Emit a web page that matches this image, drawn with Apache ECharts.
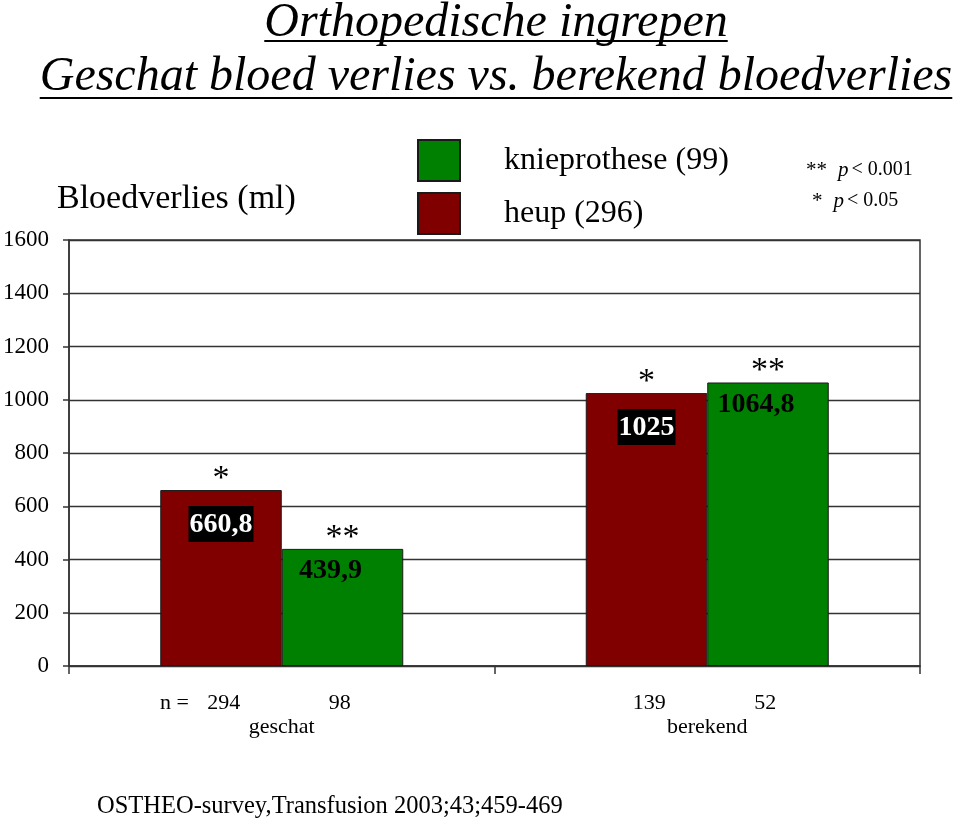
<!DOCTYPE html>
<html><head><meta charset="utf-8">
<script src="https://cdn.jsdelivr.net/npm/echarts@6/dist/echarts.min.js"></script>
<style>html,body{margin:0;padding:0;background:#fff}#c{width:960px;height:820px}</style>
</head><body><div id="c"></div>
<script>
// ---- data ----
const titleLines = ['Orthopedische ingrepen', 'Geschat bloed verlies vs. berekend bloedverlies'];
const categories = ['geschat', 'berekend'];
const heupName = 'heup (296)';
const knieName = 'knieprothese (99)';
const heupValues = [660.8, 1025];
const knieValues = [439.9, 1064.8];
const heupLabels = ['660,8', '1025'];
const knieLabels = ['439,9', '1064,8'];
const heupN = [294, 139];
const knieN = [98, 52];
const heupSig = ['*', '*'];
const knieSig = ['**', '**'];
const yMin = 0, yMax = 1600, yInterval = 200;
const yAxisTitle = 'Bloedverlies (ml)';
const nPrefix = 'n =';
const pNotes = [['**', '< 0.001'], ['*', '< 0.05']];
const sourceNote = 'OSTHEO-survey,Transfusion 2003;43;459-469';

// ---- styles ----
const SERIF = '"Liberation Serif", "Times New Roman", serif';
const RED = '#800000', GREEN = '#008000', LINE = '#333';

function measure(text, font) {
  const ctx = document.createElement('canvas').getContext('2d');
  ctx.font = font;
  return ctx.measureText(text).width;
}
const baseTitleSize = 40;
const titleFontSize = Math.round(baseTitleSize * 920 / measure(titleLines[1], 'italic ' + baseTitleSize + 'px "Liberation Serif"'));
const titleFont = 'italic ' + titleFontSize + 'px "Liberation Serif"';
const titleCenterX = 496;
const titleY = [23, 77];
const underlineY = [41, 98];

const graphics = [];
titleLines.forEach((t, i) => {
  const w = measure(t, titleFont);
  graphics.push({
    type: 'text', x: titleCenterX, y: titleY[i], silent: true,
    style: { text: t, fill: '#000', font: titleFont, align: 'center', verticalAlign: 'middle' }
  });
  graphics.push({
    type: 'line', silent: true,
    shape: { x1: titleCenterX - w / 2, y1: underlineY[i], x2: titleCenterX + w / 2, y2: underlineY[i] },
    style: { stroke: '#000', lineWidth: 2 }
  });
});
graphics.push({
  type: 'text', x: 57, y: 199, silent: true,
  style: { text: yAxisTitle, fill: '#000', font: '34px "Liberation Serif"', align: 'left', verticalAlign: 'middle' }
});
graphics.push({
  type: 'text', x: 160, y: 703, silent: true,
  style: { text: nPrefix, fill: '#000', font: '22px "Liberation Serif"', align: 'left', verticalAlign: 'middle' }
});
graphics.push({
  type: 'text', x: 97, y: 807, silent: true,
  style: { text: sourceNote, fill: '#000', font: '24.5px "Liberation Serif"', align: 'left', verticalAlign: 'middle' }
});
const noteX = [806, 812], noteY = [170, 201];
pNotes.forEach((n, i) => {
  graphics.push({
    type: 'text', x: noteX[i], y: noteY[i], silent: true,
    style: {
      text: '{s|' + n[0] + '}{p|p}{t|' + n[1] + '}',
      align: 'left', verticalAlign: 'middle',
      rich: {
        s: { fontSize: 21, fontFamily: SERIF, fill: '#000', padding: [0, 11, 0, 0] },
        p: { fontSize: 21, fontFamily: SERIF, fontStyle: 'italic', fill: '#000', padding: [0, 3, 0, 0] },
        t: { fontSize: 20, fontFamily: SERIF, fill: '#000' }
      }
    }
  });
});

function sigMarks(values, sig) {
  return categories.map((c, i) => ({ coord: [c, values[i]], name: sig[i] }));
}
const markPointCommon = {
  symbol: 'rect', symbolSize: 1, silent: true, animation: false,
  itemStyle: { color: 'rgba(0,0,0,0)' },
  label: { show: true, position: 'inside', offset: [0, -11], formatter: p => p.name,
           fontSize: 34, fontFamily: SERIF, color: '#000' }
};

const chart = echarts.init(document.getElementById('c'), null, { renderer: 'canvas' });
chart.setOption({
  animation: false,
  backgroundColor: '#fff',
  textStyle: { fontFamily: SERIF },
  grid: { left: 69, right: 40, top: 240, bottom: 154, show: true, borderColor: LINE, borderWidth: 1.5,
          outerBoundsMode: 'none', containLabel: false },
  legend: {
    data: [knieName, heupName], orient: 'vertical', left: 417, top: 139, padding: 0,
    itemWidth: 42, itemHeight: 41, itemGap: 10, icon: 'rect', selectedMode: false,
    textStyle: { fontSize: 32, lineHeight: 35, fontFamily: SERIF, color: '#000', padding: [6, 0, 0, 39] }
  },
  xAxis: {
    type: 'category', data: categories,
    axisLine: { lineStyle: { color: LINE, width: 1.5 } },
    axisTick: { show: true, length: 8, lineStyle: { color: LINE, width: 1.5 } },
    axisLabel: {
      margin: 25, color: '#000',
      formatter: (v, i) => '{n|' + heupN[i] + '}{n|' + knieN[i] + '}\n{c|' + v + '}',
      rich: {
        n: { width: 116, align: 'center', fontSize: 22, lineHeight: 24, fontFamily: SERIF, color: '#000' },
        c: { fontSize: 22, lineHeight: 24, fontFamily: SERIF, color: '#000' }
      }
    },
    splitLine: { show: false }
  },
  yAxis: {
    type: 'value', min: yMin, max: yMax, interval: yInterval,
    axisLine: { show: true, lineStyle: { color: LINE, width: 1.5 } },
    axisTick: { show: true, length: 6, lineStyle: { color: LINE, width: 1.5 } },
    axisLabel: { margin: 20, fontSize: 23, fontFamily: SERIF, color: '#000', formatter: v => String(v) },
    splitLine: { show: true, lineStyle: { color: LINE, width: 1.3 } }
  },
  series: [
    {
      name: heupName, type: 'bar', data: heupValues, barWidth: 121.5, barGap: '0%',
      itemStyle: { color: RED, borderColor: '#1a1a1a', borderWidth: 1 },
      emphasis: { disabled: true },
      label: {
        show: true, position: 'insideTop', distance: 16, formatter: p => heupLabels[p.dataIndex],
        color: '#fff', backgroundColor: '#000', padding: [5, 1, 3, 1],
        fontSize: 28, fontWeight: 'bold', fontFamily: SERIF
      },
      markPoint: Object.assign({}, markPointCommon, { data: sigMarks(heupValues, heupSig) })
    },
    {
      name: knieName, type: 'bar', data: knieValues, barWidth: 121.5, barGap: '0%',
      itemStyle: { color: GREEN, borderColor: '#1a1a1a', borderWidth: 1 },
      emphasis: { disabled: true },
      label: {
        show: true, position: 'insideTop', distance: 8, offset: [-12, 0], formatter: p => knieLabels[p.dataIndex],
        color: '#000', fontSize: 28, fontWeight: 'bold', fontFamily: SERIF
      },
      markPoint: Object.assign({}, markPointCommon, { data: sigMarks(knieValues, knieSig) })
    }
  ],
  graphic: graphics
});
</script>
</body></html>
